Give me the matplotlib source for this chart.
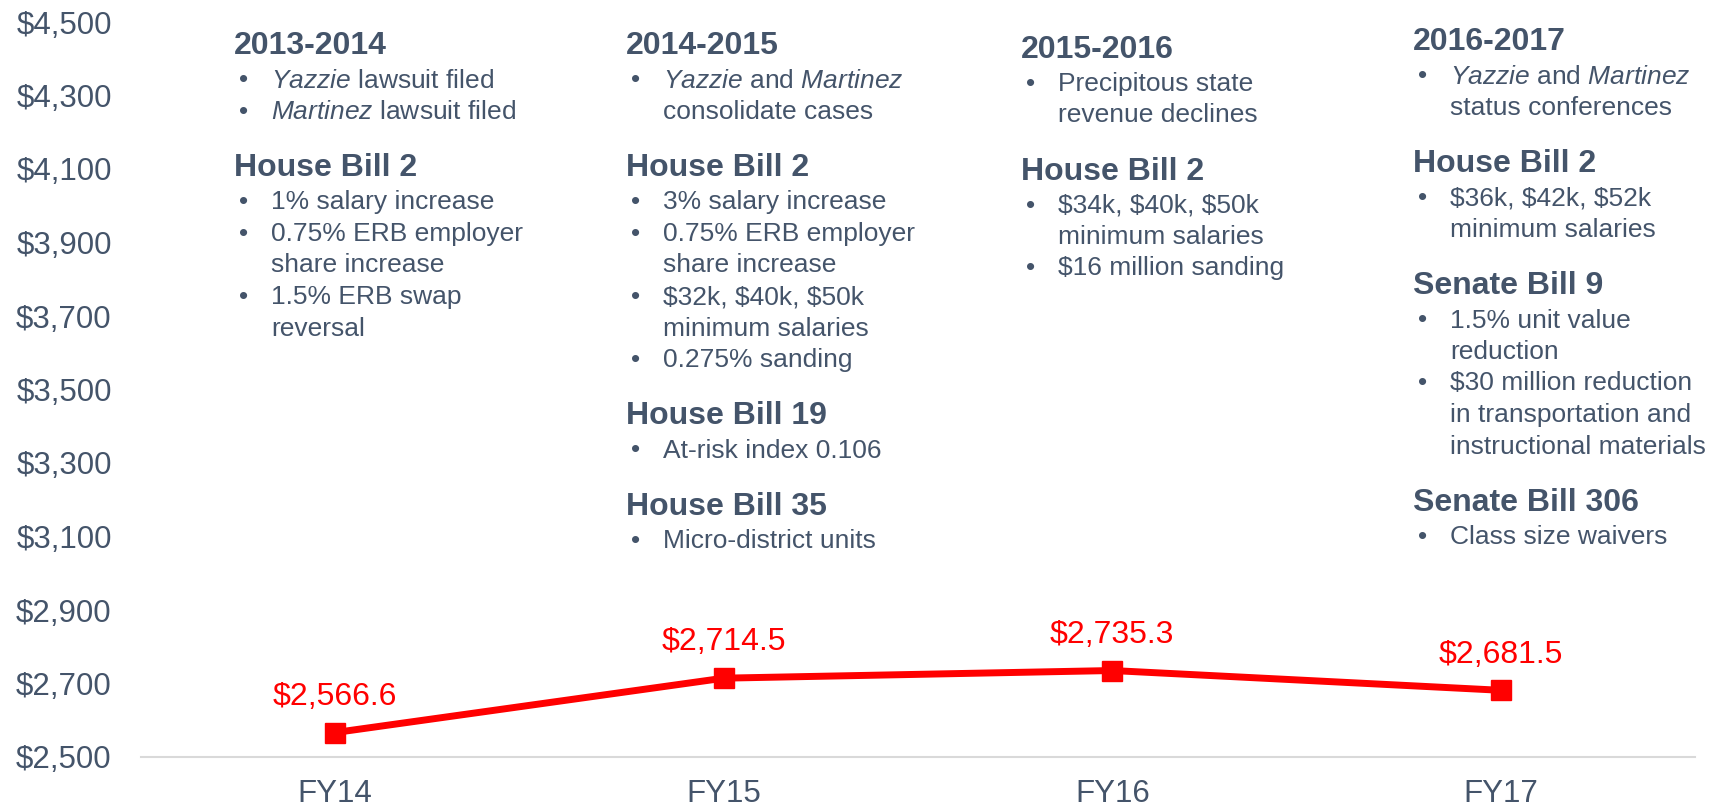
import re
import numpy as np
import matplotlib.pyplot as plt
from matplotlib.ticker import FuncFormatter

# per-unit values
years = ["FY14", "FY15", "FY16", "FY17"]
per_unit = [2566.6, 2714.5, 2735.3, 2681.5]
y_ticks = np.arange(2500, 4501, 200)

# notes above each year, *word* = italic
notes_fy14 = [
    ("head", "2013-2014"),
    ("item", ["*Yazzie* lawsuit filed"]),
    ("item", ["*Martinez* lawsuit filed"]),
    ("head", "House Bill 2"),
    ("item", ["1% salary increase"]),
    ("item", ["0.75% ERB employer", "share increase"]),
    ("item", ["1.5% ERB swap", "reversal"]),
]
notes_fy15 = [
    ("head", "2014-2015"),
    ("item", ["*Yazzie* and *Martinez*", "consolidate cases"]),
    ("head", "House Bill 2"),
    ("item", ["3% salary increase"]),
    ("item", ["0.75% ERB employer", "share increase"]),
    ("item", ["$32k, $40k, $50k", "minimum salaries"]),
    ("item", ["0.275% sanding"]),
    ("head", "House Bill 19"),
    ("item", ["At-risk index 0.106"]),
    ("head", "House Bill 35"),
    ("item", ["Micro-district units"]),
]
notes_fy16 = [
    ("head", "2015-2016"),
    ("item", ["Precipitous state", "revenue declines"]),
    ("head", "House Bill 2"),
    ("item", ["$34k, $40k, $50k", "minimum salaries"]),
    ("item", ["$16 million sanding"]),
]
notes_fy17 = [
    ("head", "2016-2017"),
    ("item", ["*Yazzie* and *Martinez*", "status conferences"]),
    ("head", "House Bill 2"),
    ("item", ["$36k, $42k, $52k", "minimum salaries"]),
    ("head", "Senate Bill 9"),
    ("item", ["1.5% unit value", "reduction"]),
    ("item", ["$30 million reduction", "in transportation and",
              "instructional materials"]),
    ("head", "Senate Bill 306"),
    ("item", ["Class size waivers"]),
]

plt.rcParams['font.family'] = ['Liberation Sans', 'DejaVu Sans']
plt.rcParams['mathtext.fontset'] = 'custom'
plt.rcParams['mathtext.rm'] = 'Liberation Sans'
plt.rcParams['mathtext.it'] = 'Liberation Sans:italic'

slate = '#44546A'
W, H = 1709, 808

fig = plt.figure(figsize=(W / 100, H / 100), dpi=100)
ax = fig.add_axes([141 / W, 1 - 757 / H, (1695 - 141) / W, (757 - 22) / H])

x = np.arange(len(years))
ax.plot(x, per_unit, color='#FF0000', lw=5, marker='s', ms=15,
        solid_joinstyle='miter', clip_on=False, zorder=3)

for xi, v in zip(x, per_unit):
    ax.annotate(f"${v:,.1f}", (xi, v), xytext=(0, 20), textcoords='offset points',
                ha='center', va='baseline', fontsize=23, color='#FF0000')

ax.set_xlim(-0.5, 3.5)
ax.set_ylim(2500, 4500)
ax.set_xticks(x)
ax.set_xticklabels(years)
ax.set_yticks(y_ticks)
ax.yaxis.set_major_formatter(FuncFormatter(lambda v, p: f"${v:,.0f}"))
ax.tick_params(axis='both', length=0, labelsize=22.5, colors=slate)
ax.tick_params(axis='y', pad=21)
ax.tick_params(axis='x', pad=16)
for s in ['top', 'right', 'left']:
    ax.spines[s].set_visible(False)
ax.spines['bottom'].set_color('#D9D9D9')
ax.spines['bottom'].set_linewidth(1.5)


def italicize(s):
    return re.sub(r"\*(\w+)\*", r"$\\mathit{\1}$", s)


def put(xp, yp, s, **kw):
    fig.text(xp / W, 1 - yp / H, s, color=slate, va='baseline', **kw)


def draw_block(x0, y0, block):
    y = y0
    prev = None
    for kind, content in block:
        if kind == "head":
            if prev is not None:
                y += 55.5
            put(x0, y + 11.5, content, fontsize=23, fontweight='bold')
        else:
            y += 35 if prev == "head" else 31.5
            put(x0 + 5, y + 9.5, "\u2022", fontsize=19)
            for i, line in enumerate(content):
                if i:
                    y += 31.5
                put(x0 + 37, y + 9.5, italicize(line), fontsize=19)
        prev = kind


draw_block(234, 43, notes_fy14)
draw_block(626, 43, notes_fy15)
draw_block(1021, 46, notes_fy16)
draw_block(1413, 39, notes_fy17)

fig.savefig('out.png', dpi=100, facecolor='white')
